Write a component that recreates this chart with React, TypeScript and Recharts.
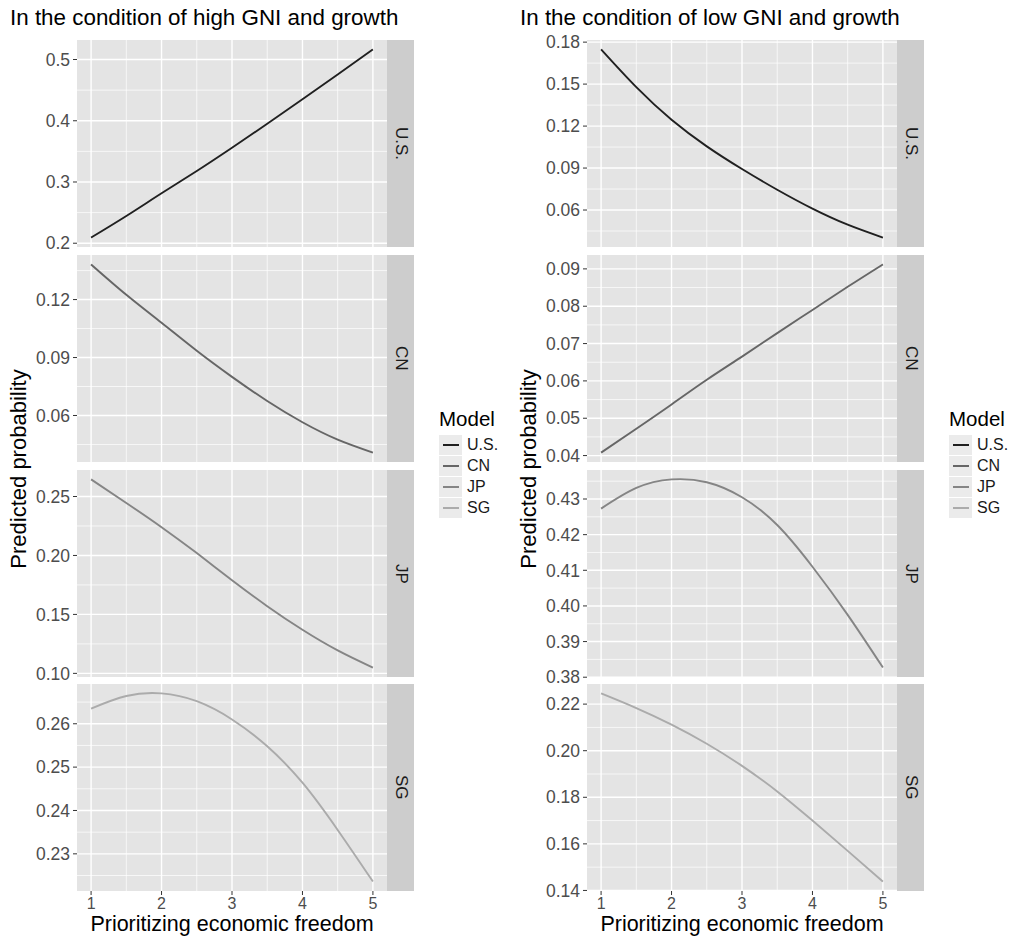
import React from "react";
import { LineChart, Line, XAxis, YAxis, CartesianGrid } from "recharts";

const xValues = [1, 1.5, 2, 2.5, 3, 3.5, 4, 4.5, 5];
const xTicks = [1, 2, 3, 4, 5];
const xMinor = [1.5, 2.5, 3.5, 4.5];

const models = ["U.S.", "CN", "JP", "SG"];
const modelColors = ["#202020", "#666666", "#858585", "#ababab"];

// high GNI and growth
const highUS = [0.2092, 0.2445, 0.2815, 0.318, 0.356, 0.395, 0.435, 0.4755, 0.5165];
const highCN = [0.1382, 0.1225, 0.108, 0.0935, 0.08, 0.0675, 0.0565, 0.0475, 0.0408];
const highJP = [0.2645, 0.2445, 0.224, 0.202, 0.179, 0.157, 0.137, 0.1195, 0.1049];
const highSG = [0.2635, 0.2664, 0.267, 0.2652, 0.261, 0.2548, 0.2464, 0.2355, 0.2236];

// low GNI and growth
const lowUS = [0.1748, 0.1478, 0.1245, 0.1055, 0.0893, 0.0745, 0.061, 0.0495, 0.0403];
const lowCN = [0.0408, 0.0472, 0.0537, 0.0603, 0.0665, 0.0728, 0.079, 0.0852, 0.0912];
const lowJP = [0.4273, 0.4331, 0.4355, 0.4347, 0.4305, 0.4227, 0.411, 0.3975, 0.3827];
const lowSG = [0.2246, 0.2183, 0.2112, 0.203, 0.1935, 0.1825, 0.17, 0.157, 0.1438];

// y breaks per panel
const highUSTicks = [0.2, 0.3, 0.4, 0.5];
const highUSMinor = [0.25, 0.35, 0.45];
const highCNTicks = [0.06, 0.09, 0.12];
const highCNMinor = [0.045, 0.075, 0.105, 0.135];
const highJPTicks = [0.1, 0.15, 0.2, 0.25];
const highJPMinor = [0.125, 0.175, 0.225];
const highSGTicks = [0.23, 0.24, 0.25, 0.26];
const highSGMinor = [0.225, 0.235, 0.245, 0.255, 0.265];

const lowUSTicks = [0.06, 0.09, 0.12, 0.15, 0.18];
const lowUSMinor = [0.045, 0.075, 0.105, 0.135, 0.165];
const lowCNTicks = [0.04, 0.05, 0.06, 0.07, 0.08, 0.09];
const lowCNMinor = [0.045, 0.055, 0.065, 0.075, 0.085];
const lowJPTicks = [0.38, 0.39, 0.4, 0.41, 0.42, 0.43];
const lowJPMinor = [0.385, 0.395, 0.405, 0.415, 0.425, 0.435];
const lowSGTicks = [0.14, 0.16, 0.18, 0.2, 0.22];
const lowSGMinor = [0.15, 0.17, 0.19, 0.21];

const FONT = "'Liberation Sans', Arial, sans-serif";
const Y_AXIS_W = 77;
const PLOT_W = 310;
const STRIP_W = 27;
const PANEL_H = 207;
const PAD = 10; // room so edge tick labels are not clipped
const X_AXIS_H = 24;
const PANEL_TOPS = [40, 255, 470, 684];
const BG = "#E4E4E4";
const STRIP_BG = "#CDCDCD";

// ggplot-style 5% expansion of the data range
function padded(values: number[]): [number, number] {
  const lo = Math.min(...values);
  const hi = Math.max(...values);
  const pad = (hi - lo) * 0.05;
  return [lo - pad, hi + pad];
}

interface PanelProps {
  values: number[];
  color: string;
  ticks: number[];
  minor: number[];
  digits: number;
  strip: string;
  left: number;
  top: number;
  showX: boolean;
}

function Panel({ values, color, ticks, minor, digits, strip, left, top, showX }: PanelProps) {
  const rows = xValues.map((x, i) => ({ x, y: values[i] }));
  const height = PANEL_H + PAD * 2 + (showX ? X_AXIS_H : 0);
  return (
    <div style={{ position: "absolute", left, top: top - PAD, width: Y_AXIS_W + PLOT_W + STRIP_W, height }}>
      <LineChart
        width={Y_AXIS_W + PLOT_W}
        height={height}
        data={rows}
        margin={{ top: PAD, right: 0, bottom: PAD, left: 0 }}
      >
        <CartesianGrid
          fill={BG}
          fillOpacity={1}
          stroke="#ffffff"
          strokeWidth={0.7}
          horizontalValues={minor}
          verticalValues={xMinor}
        />
        <CartesianGrid
          stroke="#ffffff"
          strokeWidth={1.4}
          horizontalValues={ticks}
          verticalValues={xTicks}
        />
        <XAxis
          dataKey="x"
          type="number"
          domain={[0.8, 5.2]}
          ticks={xTicks}
          interval={0}
          allowDataOverflow
          hide={!showX}
          height={X_AXIS_H}
          axisLine={false}
          tickSize={4}
          tickMargin={3}
          tickLine={{ stroke: "#333333" }}
          tick={{ fontSize: 16, fill: "#4d4d4d", fontFamily: FONT }}
        />
        <YAxis
          type="number"
          domain={padded(values)}
          ticks={ticks}
          interval={0}
          allowDataOverflow
          width={Y_AXIS_W}
          axisLine={false}
          tickSize={4}
          tickMargin={3}
          tickLine={{ stroke: "#333333" }}
          tick={{ fontSize: 17.5, fill: "#4d4d4d", fontFamily: FONT }}
          tickFormatter={(v: number) => v.toFixed(digits)}
        />
        <Line
          type="natural"
          dataKey="y"
          stroke={color}
          strokeWidth={1.9}
          dot={false}
          isAnimationActive={false}
        />
      </LineChart>
      <div
        style={{
          position: "absolute",
          left: Y_AXIS_W + PLOT_W,
          top: PAD,
          width: STRIP_W,
          height: PANEL_H,
          background: STRIP_BG,
          display: "flex",
          alignItems: "center",
          justifyContent: "center",
        }}
      >
        <span style={{ writingMode: "vertical-rl", fontSize: 17, color: "#1a1a1a", fontFamily: FONT }}>
          {strip}
        </span>
      </div>
    </div>
  );
}

function Legend({ left }: { left: number }) {
  return (
    <div style={{ position: "absolute", left, top: 407, fontFamily: FONT }}>
      <div style={{ fontSize: 20.5, color: "#000", lineHeight: "24px", marginBottom: 4 }}>Model</div>
      {models.map((m, i) => (
        <div key={m} style={{ display: "flex", alignItems: "center", height: 20, marginBottom: 1 }}>
          <div
            style={{
              width: 23,
              height: 20,
              background: "#EBEBEB",
              display: "flex",
              alignItems: "center",
              justifyContent: "center",
            }}
          >
            <div style={{ width: 16, height: 2, background: modelColors[i] }} />
          </div>
          <span style={{ fontSize: 16, color: "#1a1a1a", marginLeft: 5 }}>{m}</span>
        </div>
      ))}
    </div>
  );
}

function Facets({ left, title, series, digits }: {
  left: number;
  title: string;
  series: { values: number[]; ticks: number[]; minor: number[] }[];
  digits: number[];
}) {
  return (
    <>
      <div
        style={{
          position: "absolute",
          left: left + 10,
          top: 4,
          fontSize: 22.4,
          lineHeight: "28px",
          color: "#000",
          fontFamily: FONT,
          whiteSpace: "nowrap",
        }}
      >
        {title}
      </div>
      <div
        style={{
          position: "absolute",
          left: left + 19 - 150,
          top: 469 - 14,
          width: 300,
          height: 28,
          lineHeight: "28px",
          textAlign: "center",
          transform: "rotate(-90deg)",
          fontSize: 22,
          color: "#000",
          fontFamily: FONT,
          whiteSpace: "nowrap",
        }}
      >
        Predicted probability
      </div>
      {series.map((s, i) => (
        <Panel
          key={models[i]}
          values={s.values}
          ticks={s.ticks}
          minor={s.minor}
          digits={digits[i]}
          color={modelColors[i]}
          strip={models[i]}
          left={left}
          top={PANEL_TOPS[i]}
          showX={i === series.length - 1}
        />
      ))}
      <div
        style={{
          position: "absolute",
          left: left + Y_AXIS_W,
          width: PLOT_W,
          top: 911,
          lineHeight: "26px",
          textAlign: "center",
          fontSize: 21.5,
          color: "#000",
          fontFamily: FONT,
          whiteSpace: "nowrap",
        }}
      >
        Prioritizing economic freedom
      </div>
    </>
  );
}

export default function App() {
  return (
    <div
      style={{
        position: "absolute",
        left: 0,
        top: 0,
        width: 1010,
        height: 939,
        background: "#ffffff",
        overflow: "hidden",
        fontFamily: FONT,
      }}
    >
      <Facets
        left={0}
        title="In the condition of high GNI and growth"
        digits={[1, 2, 2, 2]}
        series={[
          { values: highUS, ticks: highUSTicks, minor: highUSMinor },
          { values: highCN, ticks: highCNTicks, minor: highCNMinor },
          { values: highJP, ticks: highJPTicks, minor: highJPMinor },
          { values: highSG, ticks: highSGTicks, minor: highSGMinor },
        ]}
      />
      <Legend left={439} />
      <Facets
        left={510}
        title="In the condition of low GNI and growth"
        digits={[2, 2, 2, 2]}
        series={[
          { values: lowUS, ticks: lowUSTicks, minor: lowUSMinor },
          { values: lowCN, ticks: lowCNTicks, minor: lowCNMinor },
          { values: lowJP, ticks: lowJPTicks, minor: lowJPMinor },
          { values: lowSG, ticks: lowSGTicks, minor: lowSGMinor },
        ]}
      />
      <Legend left={949} />
    </div>
  );
}
